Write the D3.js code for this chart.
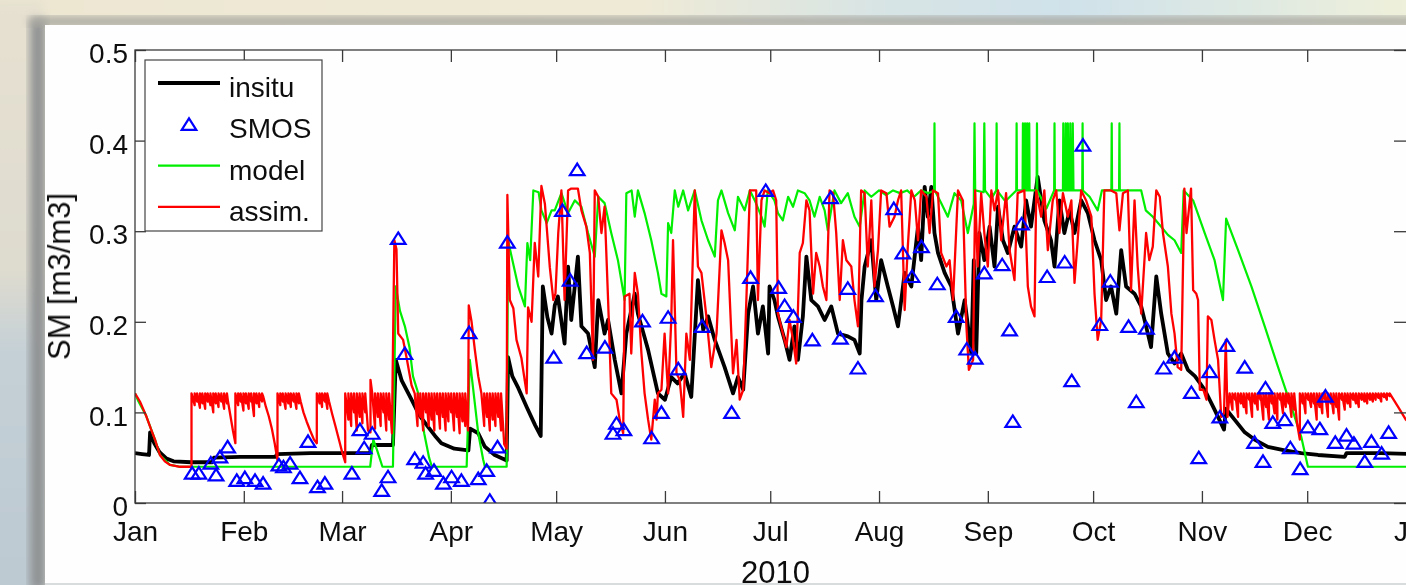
<!DOCTYPE html>
<html>
<head>
<meta charset="utf-8">
<script src="https://cdn.jsdelivr.net/npm/d3@7"></script>
<style>
  html, body { margin: 0; padding: 0; background: #e7e2d2; overflow: hidden; }
  svg { display: block; font-family: "Liberation Sans", Arial, Helvetica, sans-serif; }
</style>
</head>
<body>
<svg id="fig" width="1406" height="585"></svg>
<script>
// all series: [day of 2010 (0 = 1 Jan), soil moisture in m3/m3]
const insitu = [
  [0,0.055],[2,0.054],[4,0.053],[4.3,0.078],[5.5,0.066],[7,0.056],[9,0.049],[11,0.046],[16,0.045],[22,0.045],
  [22.5,0.050],[30,0.051],[40,0.051],[40.5,0.054],[50,0.055],[67,0.055],[67.5,0.064],[73.5,0.064],[74.3,0.158],
  [76,0.135],[78.8,0.114],[81,0.097],[83.5,0.084],[85.5,0.074],[87.3,0.066],[91,0.060],[95,0.058],[95.5,0.082],
  [97.8,0.077],[99.7,0.062],[102.5,0.053],[105.9,0.047],[106.3,0.161],[107.5,0.140],[109.2,0.127],[111.6,0.106],
  [114,0.086],[115.6,0.074],[116.2,0.239],[117.5,0.205],[118.7,0.187],[119.6,0.218],[120.5,0.228],[122.4,0.176],
  [123.4,0.261],[124.3,0.202],[126.2,0.272],[127.2,0.195],[129.1,0.187],[131,0.150],[132,0.224],[133.8,0.187],
  [134.8,0.202],[136.7,0.158],[138.6,0.121],[140,0.187],[142.4,0.231],[143.3,0.209],[146.2,0.169],[149,0.121],
  [151,0.114],[152.8,0.139],[154.6,0.132],[156.6,0.143],[158.5,0.117],[160.4,0.246],[161.9,0.191],[163.3,0.206],
  [165.2,0.180],[168,0.150],[170.4,0.121],[171.8,0.139],[173.3,0.125],[174.7,0.209],[176.1,0.239],[177.5,0.187],
  [178.9,0.217],[180.4,0.165],[180.8,0.239],[182.2,0.224],[183.2,0.206],[185.1,0.180],[186.5,0.158],[187.9,0.195],
  [188.9,0.158],[190.3,0.206],[191.3,0.272],[192.7,0.224],[194.6,0.217],[196.5,0.202],[198.4,0.217],[200.3,0.187],
  [203.1,0.184],[205,0.180],[206.5,0.165],[207,0.224],[207.9,0.261],[209.8,0.290],[211.2,0.224],[212.6,0.268],
  [214.5,0.239],[216,0.217],[217.4,0.195],[219.3,0.254],[221.2,0.239],[223.1,0.305],[224,0.268],[225,0.349],
  [225.9,0.316],[226.9,0.349],[227.8,0.298],[228.8,0.276],[230.7,0.254],[232.6,0.239],[234.5,0.187],[236.4,0.224],
  [238.3,0.165],[239,0.268],[239.7,0.165],[240.6,0.298],[242,0.268],[243.5,0.305],[244.9,0.261],[245.9,0.327],
  [247.3,0.290],[248.7,0.276],[250.6,0.305],[252.5,0.283],[253.9,0.334],[255.3,0.305],[257.2,0.360],[259.1,0.312],
  [261,0.290],[262,0.261],[263.4,0.334],[264.8,0.298],[266.3,0.323],[267.7,0.298],[269.6,0.334],[271.5,0.320],
  [273.4,0.290],[275.3,0.268],[276.7,0.224],[278.1,0.239],[279.6,0.209],[281,0.279],[282.4,0.239],[284.8,0.231],
  [286.7,0.217],[288.6,0.187],[289.5,0.172],[291,0.250],[292.4,0.209],[294.3,0.165],[296.2,0.154],[298.1,0.165],
  [300,0.147],[302,0.140],[304.8,0.125],[307.6,0.103],[310.3,0.081],[310.8,0.104],[313.3,0.092],[316.2,0.078],
  [319,0.070],[322.8,0.062],[327.6,0.058],[332.3,0.055],[337.1,0.053],[344.7,0.051],[345.2,0.055],[355,0.055],
  [365,0.054]
];

const smos = [
  [16.3,0.033],[18.2,0.033],[21.6,0.044],[23.1,0.031],[24.2,0.051],[26.4,0.062],[29,0.025],[31.3,0.028],
  [34.2,0.025],[36.5,0.022],[41,0.042],[42.3,0.040],[44.2,0.044],[47,0.028],[49.3,0.068],[52,0.018],[54.1,0.022],
  [61.8,0.033],[64.1,0.081],[65.3,0.061],[67.6,0.077],[70.3,0.014],[72.1,0.029],[75,0.292],[76.9,0.165],
  [79.7,0.049],[82.1,0.045],[82.8,0.033],[85.2,0.036],[87.9,0.022],[90.2,0.029],[93,0.025],[95.2,0.188],
  [97.8,0.027],[100.2,0.036],[101.1,0.003],[103.3,0.062],[106.1,0.288],[119.3,0.161],[121.8,0.323],[124,0.246],
  [126,0.368],[128.7,0.166],[133.9,0.172],[136.2,0.077],[137.2,0.088],[139.3,0.081],[144.6,0.201],[147.2,0.072],
  [150,0.100],[151.9,0.205],[154.8,0.148],[161.6,0.195],[170,0.100],[175.4,0.249],[179.7,0.345],[183.4,0.238],
  [185.1,0.218],[187.6,0.206],[193,0.180],[198.2,0.337],[201,0.182],[203.1,0.237],[206,0.149],[211,0.229],
  [216.2,0.325],[218.8,0.276],[221.4,0.250],[224.1,0.283],[228.6,0.242],[234,0.206],[237,0.170],[239.4,0.160],
  [242,0.254],[247.1,0.263],[249.2,0.191],[250.1,0.090],[252.6,0.308],[259.9,0.250],[264.9,0.266],[266.9,0.135],
  [270.1,0.395],[274.9,0.197],[277.9,0.245],[283.1,0.195],[285.3,0.112],[288.2,0.193],[293.1,0.149],[296.2,0.161],
  [301,0.122],[303.1,0.050],[306.2,0.145],[309.1,0.095],[311.1,0.174],[316.2,0.150],[319,0.067],[321.4,0.046],
  [322.1,0.127],[324.2,0.089],[327.6,0.092],[329.2,0.061],[332,0.038],[334.2,0.084],[337.6,0.082],[339.2,0.118],
  [342,0.067],[345.2,0.075],[347.3,0.066],[350.4,0.046],[352.3,0.068],[355.2,0.055],[357.2,0.078]
];

const model = [
  [0,0.121],[1,0.112],[3.1,0.097],[5.7,0.070],[7.1,0.053],[10,0.042],[12.8,0.040],[67,0.040],[67.9,0.070],
  [69,0.058],[70.5,0.040],[73.5,0.040],[74.3,0.239],[75.5,0.212],[76.9,0.195],[78.2,0.172],[79.2,0.140],
  [80.7,0.121],[82.4,0.077],[83.8,0.050],[84.6,0.040],[94.5,0.040],[95.4,0.158],[96.5,0.121],[97.8,0.077],
  [99.2,0.048],[99.7,0.040],[105.9,0.040],[106.3,0.290],[107.3,0.272],[109.2,0.239],[111.1,0.217],[111.8,0.287],
  [112.6,0.268],[113.5,0.345],[115,0.343],[115.8,0.323],[117.3,0.309],[118.7,0.323],[119.6,0.323],[121.5,0.342],
  [123.4,0.320],[125.3,0.334],[127.2,0.327],[129.1,0.298],[131,0.272],[132,0.338],[133.8,0.331],[135.7,0.298],
  [137.6,0.268],[139.5,0.224],[140,0.342],[141.5,0.345],[142.4,0.316],[143.3,0.345],[145.2,0.320],[147.1,0.290],
  [149,0.254],[150,0.231],[151.4,0.228],[151.9,0.309],[152.8,0.298],[153.8,0.345],[154.8,0.327],[156.2,0.345],
  [157.6,0.323],[159.5,0.345],[161.4,0.312],[163.3,0.290],[165.2,0.272],[166.1,0.334],[167.1,0.345],[169,0.320],
  [170.9,0.301],[171.8,0.338],[173.7,0.323],[175.2,0.345],[176.6,0.334],[178.5,0.316],[179.4,0.305],[180.3,0.345],
  [182.2,0.334],[183.2,0.320],[184.6,0.312],[186.1,0.338],[187.5,0.327],[188.9,0.345],[190.8,0.342],[192.2,0.334],
  [193.6,0.316],[195.1,0.338],[196.5,0.323],[197.4,0.301],[199.3,0.345],[201.2,0.331],[203.1,0.342],[205,0.316],
  [206.5,0.305],[207.9,0.345],[209.8,0.338],[212,0.345],[214,0.340],[216,0.345],[218,0.342],[220,0.345],
  [222,0.338],[224,0.345],[226,0.342],[227.7,0.345],[227.8,0.419],[227.9,0.345],[229.7,0.331],[231.6,0.316],
  [233.5,0.342],[235.4,0.334],[237.3,0.298],[239,0.330],[239.2,0.419],[239.4,0.345],[241.8,0.343],[242,0.419],
  [242.2,0.345],[244,0.336],[245.4,0.345],[245.5,0.419],[245.6,0.345],[248,0.333],[251.1,0.345],[251.2,0.419],
  [251.3,0.345],[252.9,0.345],[253,0.419],[253.1,0.345],[253.5,0.345],[253.6,0.419],[253.7,0.345],[254.1,0.345],
  [254.2,0.419],[254.3,0.345],[254.7,0.345],[254.8,0.419],[254.9,0.345],[256.9,0.345],[257,0.419],[257.1,0.345],
  [259.7,0.325],[261.9,0.345],[262,0.419],[262.1,0.345],[264.4,0.345],[264.5,0.419],[264.7,0.345],[265.1,0.345],
  [265.2,0.419],[265.4,0.345],[265.7,0.345],[265.8,0.419],[266,0.345],[266.4,0.345],[266.5,0.419],[266.7,0.345],
  [267.1,0.345],[267.2,0.419],[267.4,0.345],[269.9,0.345],[270,0.419],[270.1,0.345],[272,0.338],[274.3,0.323],
  [275.5,0.345],[278.2,0.345],[278.3,0.419],[278.4,0.345],[280.4,0.345],[280.5,0.419],[280.6,0.345],[283,0.345],
  [286.7,0.345],[288,0.323],[290,0.316],[292.4,0.305],[294.3,0.296],[296.2,0.290],[298.1,0.276],[298.8,0.345],
  [301.5,0.334],[304.8,0.298],[307.6,0.268],[310,0.224],[310.9,0.314],[314.3,0.279],[318.1,0.239],[321.9,0.195],
  [325.7,0.150],[329.5,0.106],[332.3,0.073],[334.2,0.040],[365,0.040]
];

// assimilation run: sharp jumps back up to the top value after each update
const assim = [
  [0,0.121],[1.4,0.112],[3.1,0.097],[4.5,0.082],[5.7,0.070],[7.1,0.053],[8.5,0.046],[10,0.042],[12.8,0.040],
  [16.1,0.040],[16.1,0.121],
  [17.0,0.108],[17.0,0.121],[17.7,0.112],[17.7,0.121],[18.5,0.105],[18.5,0.121],[19.2,0.110],[19.2,0.121],
  [20.0,0.104],[20.0,0.121],[20.7,0.112],[20.7,0.121],[21.5,0.108],[21.5,0.121],[22.3,0.100],[22.3,0.121],
  [23.0,0.110],[23.0,0.121],[23.8,0.106],[23.8,0.121],[24.6,0.112],[24.6,0.121],[25.4,0.104],[25.4,0.121],
  [26.2,0.110],[26.2,0.121],[26.5,0.112],[27.2,0.096],[27.9,0.080],[28.6,0.066],[28.6,0.121],
  [29.4,0.108],[29.4,0.121],[30.1,0.112],[30.1,0.121],[30.9,0.102],[30.9,0.121],[31.6,0.110],[31.6,0.121],
  [32.4,0.104],[32.4,0.121],[33.1,0.112],[33.1,0.121],[33.9,0.096],[33.9,0.121],[34.6,0.110],[34.6,0.121],
  [35.4,0.106],[35.4,0.121],[36.2,0.112],[36.2,0.121],[36.5,0.118],[37.3,0.106],[38.1,0.096],[39,0.082],
  [39.8,0.066],[40.6,0.047],[40.6,0.121],
  [41.4,0.108],[41.4,0.121],[42.1,0.112],[42.1,0.121],[42.9,0.104],[42.9,0.121],[43.7,0.110],[43.7,0.121],
  [44.4,0.106],[44.4,0.121],[45.2,0.112],[45.2,0.121],[46,0.104],[46,0.121],[46.7,0.110],[46.7,0.121],
  [47.2,0.112],[48,0.100],[48.9,0.090],[49.9,0.080],[51,0.070],[51.8,0.066],[51.8,0.121],
  [52.6,0.110],[52.6,0.121],[53.3,0.106],[53.3,0.121],[54.1,0.112],[54.1,0.121],[54.8,0.104],[54.8,0.121],
  [55.3,0.112],[56.2,0.098],[57.1,0.085],[58.1,0.070],[59.1,0.055],[59.9,0.045],[59.9,0.121],
  [60.8,0.092],[60.8,0.121],[61.6,0.085],[61.6,0.121],[62.4,0.100],[62.4,0.121],[63.2,0.080],[63.2,0.121],
  [64,0.095],[64,0.121],[64.8,0.088],[64.8,0.121],[65.6,0.100],[65.6,0.121],[66.4,0.080],[67.1,0.078],
  [67.1,0.136],[67.6,0.121],[68.4,0.082],[68.4,0.121],[69.2,0.095],[69.2,0.121],[70,0.085],[70,0.121],
  [70.8,0.100],[70.8,0.121],[71.6,0.080],[71.6,0.121],[72.4,0.092],[72.4,0.121],[73.2,0.077],
  [73.9,0.290],[74.5,0.280],[75,0.187],[76.4,0.180],[77.4,0.160],[78.8,0.130],[79.7,0.121],
  [80.5,0.085],[80.5,0.121],[81.3,0.095],[81.3,0.121],[82.1,0.080],[82.1,0.121],[82.9,0.100],[82.9,0.121],
  [83.7,0.085],[83.7,0.121],[84.5,0.092],[84.5,0.121],[85.3,0.080],[85.3,0.121],[86.1,0.098],[86.1,0.121],
  [86.9,0.082],[86.9,0.121],[87.7,0.095],[87.7,0.121],[88.5,0.080],[88.5,0.121],[89.3,0.090],[89.3,0.121],
  [90.1,0.100],[90.1,0.121],[90.9,0.080],[90.9,0.121],[91.7,0.095],[91.7,0.121],[92.5,0.077],[92.5,0.121],
  [93.3,0.090],[93.3,0.121],[94.1,0.085],[94.1,0.121],[94.9,0.080],
  [95.1,0.218],[95.9,0.200],[96.8,0.170],[97.8,0.140],[98.7,0.121],
  [99.5,0.085],[99.5,0.121],[100.3,0.095],[100.3,0.121],[101.1,0.080],[101.1,0.121],[101.9,0.092],[101.9,0.121],
  [102.7,0.085],[102.7,0.121],[103.5,0.095],[103.5,0.121],[104.3,0.080],[104.3,0.121],[105.2,0.065],[105.9,0.060],
  [106.1,0.340],[106.8,0.224],[107.8,0.215],[108.7,0.180],[110.1,0.160],
  [111.6,0.121],[112,0.216],[113,0.200],[113.9,0.287],[114.9,0.250],[115.8,0.350],[116.8,0.330],[118.2,0.260],
  [119.2,0.224],[119.8,0.231],[120.6,0.298],[121.5,0.345],[122.4,0.224],[123.4,0.345],[124.3,0.347],
  [126.2,0.347],[127.2,0.323],[128.6,0.305],[129.6,0.276],[130.5,0.158],[131,0.345],[132,0.338],[132.9,0.298],
  [133.8,0.327],[134.8,0.224],[135.7,0.121],[137.2,0.114],[138.1,0.092],[139.1,0.077],[139.5,0.228],
  [140.9,0.231],[141.4,0.165],[142.4,0.254],[143.3,0.231],[144.3,0.165],[145.2,0.121],[146.2,0.092],
  [147.1,0.070],[148.1,0.114],[148.6,0.092],[149,0.121],[150,0.125],[150.9,0.187],[151.9,0.121],[152.8,0.202],
  [153.3,0.290],[154.3,0.143],[155.2,0.136],[156.2,0.095],[157.1,0.187],[158.1,0.158],[159.5,0.345],
  [160.4,0.261],[161.4,0.254],[162.8,0.206],[164.2,0.150],[165.7,0.187],[167.1,0.301],[168,0.287],[169,0.268],
  [170.4,0.143],[171.4,0.180],[172.3,0.114],[173.3,0.125],[174.2,0.224],[175.2,0.345],[177,0.345],[177.5,0.224],
  [178.5,0.334],[179.4,0.345],[180.8,0.342],[181.8,0.345],[182.7,0.334],[183.2,0.209],[184.6,0.187],
  [185.6,0.172],[186.5,0.202],[187.5,0.180],[188.4,0.154],[189.4,0.276],[190.3,0.287],[191.3,0.334],
  [192.2,0.323],[193.2,0.231],[194.1,0.276],[195.1,0.261],[196,0.239],[197,0.224],[197.9,0.345],[198.9,0.342],
  [199.8,0.298],[200.8,0.224],[201.7,0.290],[202.7,0.268],[204.1,0.261],[205,0.224],[206,0.195],[206.9,0.345],
  [207.9,0.342],[208.8,0.261],[209.8,0.334],[210.7,0.239],[211.7,0.279],[212.6,0.345],[214.1,0.342],
  [215,0.305],[216.4,0.316],[217.4,0.334],[218.3,0.345],[219.3,0.213],[220.2,0.283],[221.2,0.345],
  [222.2,0.334],[223.1,0.290],[224,0.345],[225.5,0.338],[226.4,0.298],[227.4,0.345],[228.8,0.342],
  [229.7,0.276],[231.2,0.261],[232.1,0.268],[233.1,0.224],[234.5,0.345],[235.9,0.334],[236.9,0.195],
  [237.6,0.147],[238.8,0.158],[239.4,0.345],[240.1,0.261],[241.1,0.342],[242,0.298],[243,0.261],[244,0.345],
  [244.9,0.323],[245.9,0.345],[246.8,0.290],[248.2,0.342],[249.2,0.279],[250.6,0.246],[251.5,0.342],
  [253.4,0.345],[254.4,0.239],[255.3,0.217],[256.3,0.206],[256.8,0.345],[258.2,0.316],[259.1,0.345],
  [260.1,0.279],[261.5,0.334],[262.5,0.345],[263.4,0.298],[264.4,0.342],[265.8,0.316],[266.8,0.334],
  [267.7,0.243],[268.6,0.290],[269.6,0.345],[271,0.334],[272.5,0.316],[273.4,0.231],[274.3,0.180],[275.3,0.202],
  [276.2,0.345],[278.1,0.345],[279.6,0.342],[280.5,0.301],[281.5,0.342],[282.9,0.345],[283.8,0.235],
  [284.8,0.334],[285.7,0.261],[286.7,0.209],[288.1,0.298],[289,0.268],[290,0.283],[291,0.345],[292,0.338],
  [292.9,0.298],[294.3,0.261],[295.3,0.209],[296.2,0.187],[297.1,0.150],[298.1,0.147],[299,0.347],[299.6,0.298],
  [300.9,0.347],[301.5,0.235],[302.4,0.231],[302.9,0.224],[303.4,0.125],[304.4,0.125],[305.3,0.114],
  [305.7,0.206],[306.7,0.202],[307.6,0.180],[308.6,0.158],[309.5,0.095],[310.3,0.099],[310.8,0.180],
  [311.3,0.095],[311.9,0.121],
  [312.7,0.103],[312.7,0.121],[313.5,0.114],[313.5,0.121],[314.3,0.095],[314.3,0.121],[315.1,0.110],[315.1,0.121],
  [315.9,0.106],[315.9,0.121],[316.7,0.099],[316.7,0.121],[317.5,0.114],[317.5,0.121],[318.3,0.095],[318.3,0.121],
  [319.1,0.110],[319.1,0.121],[319.9,0.103],[319.9,0.121],[320.7,0.114],[320.7,0.121],[321.5,0.092],[321.5,0.121],
  [322.3,0.106],[322.3,0.121],[323.1,0.092],[323.1,0.121],[323.9,0.110],[323.9,0.121],[324.7,0.099],[324.7,0.121],
  [325.5,0.092],[325.5,0.121],[326.3,0.114],[326.3,0.121],[327.1,0.099],[327.1,0.121],[327.9,0.106],[327.9,0.121],
  [328.7,0.110],[328.7,0.121],[329.5,0.095],[329.5,0.121],[330.3,0.103],[330.3,0.121],[331.1,0.088],[331.9,0.070],
  [331.9,0.121],[332.7,0.110],[332.7,0.121],[333.5,0.099],[333.5,0.121],[334.3,0.114],[334.3,0.121],
  [335.1,0.106],[335.1,0.121],[335.9,0.110],[335.9,0.121],[336.7,0.092],[336.7,0.121],[337.5,0.106],[337.5,0.121],
  [338.3,0.099],[338.3,0.121],[339.1,0.114],[339.1,0.121],[339.9,0.095],[339.9,0.121],[340.7,0.110],[340.7,0.121],
  [341.5,0.099],[341.5,0.121],[342.3,0.106],[342.3,0.121],[343.1,0.092],[343.1,0.121],[343.9,0.114],[343.9,0.121],
  [344.7,0.103],[344.7,0.121],[345.5,0.110],[345.5,0.121],[346.3,0.106],[346.3,0.121],[347.1,0.114],[347.1,0.121],
  [347.9,0.110],[347.9,0.121],[348.7,0.106],[348.7,0.121],[349.5,0.114],[349.5,0.121],[350.3,0.112],[350.3,0.121],
  [351.1,0.110],[351.1,0.121],[351.9,0.114],[351.9,0.121],[352.7,0.112],[352.7,0.121],[353.5,0.114],[353.5,0.121],
  [354.3,0.116],[354.3,0.121],[355.1,0.112],[355.1,0.121],[355.9,0.117],[355.9,0.121],[356.7,0.114],[356.7,0.121],
  [357.5,0.118],[357.5,0.121],[359.9,0.106],[362.1,0.092],[365,0.082]
];

const yTicks = [0, 0.1, 0.2, 0.3, 0.4, 0.5];
const legendLabels = ['insitu', 'SMOS', 'model', 'assim.'];
const xLabel = '2010';
const yLabel = 'SM [m3/m3]';

const svg = d3.select('#fig');
const t0 = Date.UTC(2010, 0, 1);
const toDate = (d) => new Date(t0 + d * 864e5);

// axes box runs to 1 Jan 2011, a little past the right edge of the photo
const boxL = 135, boxR = 1416, boxT = 50, boxB = 503;

const xScale = d3.scaleUtc()
  .domain([new Date(t0), new Date(Date.UTC(2011, 0, 1))])
  .range([boxL, boxR]);

const yScale = d3.scaleLinear()
  .domain([0, 0.5])
  .range([boxB, boxT]);

// ---- photo background: slide edges around the white figure ----
const defs = svg.append('defs');
defs.append('filter').attr('id', 'blurBg').attr('x', '-20%').attr('y', '-20%').attr('width', '140%').attr('height', '140%')
  .append('feGaussianBlur').attr('stdDeviation', 5);
defs.append('filter').attr('id', 'soft')
  .append('feGaussianBlur').attr('stdDeviation', 0.55);

const topGrad = defs.append('linearGradient').attr('id', 'topGrad');
[[0, '#ece6d2'], [0.45, '#efead6'], [0.62, '#d8e4e4'], [0.75, '#cfe1ea'], [0.88, '#dfe9e2'], [1, '#f1f1d9']]
  .forEach(([o, c]) => topGrad.append('stop').attr('offset', o).attr('stop-color', c));

const leftGrad = defs.append('linearGradient').attr('id', 'leftGrad')
  .attr('x1', 0).attr('y1', 0).attr('x2', 0).attr('y2', 1);
[[0, '#e6e1d0'], [0.45, '#dedbcf'], [0.58, '#c5d0d6'], [1, '#bcc9d1']]
  .forEach(([o, c]) => leftGrad.append('stop').attr('offset', o).attr('stop-color', c));

const bg = svg.append('g');
bg.append('rect').attr('width', 1406).attr('height', 585).attr('fill', '#e7e2d2');
bg.append('rect').attr('x', -20).attr('y', -20).attr('width', 1450).attr('height', 45)
  .attr('fill', 'url(#topGrad)').attr('filter', 'url(#blurBg)');
bg.append('rect').attr('x', -20).attr('y', 0).attr('width', 64).attr('height', 605)
  .attr('fill', 'url(#leftGrad)').attr('filter', 'url(#blurBg)');
bg.append('rect').attr('x', 30).attr('y', 20).attr('width', 16).attr('height', 570)
  .attr('fill', '#8f9293').attr('filter', 'url(#blurBg)');
bg.append('rect').attr('x', 30).attr('y', 17).attr('width', 1390).attr('height', 9)
  .attr('fill', '#a3a29b').attr('filter', 'url(#blurBg)');
bg.append('rect').attr('x', 45).attr('y', 25).attr('width', 1361).attr('height', 558)
  .attr('fill', '#fefefe');
bg.append('rect').attr('x', 45).attr('y', 583).attr('width', 1361).attr('height', 2)
  .attr('fill', '#d9dcdc');

// ---- the figure ----
const fig = svg.append('g').attr('filter', 'url(#soft)');

fig.append('clipPath').attr('id', 'plotClip')
  .append('rect').attr('x', boxL).attr('y', boxT).attr('width', boxR - boxL).attr('height', boxB - boxT);

const plot = fig.append('g').attr('clip-path', 'url(#plotClip)');

const line = d3.line()
  .x((d) => xScale(toDate(d[0])))
  .y((d) => yScale(d[1]));

plot.append('path').datum(insitu)
  .attr('d', line).attr('fill', 'none').attr('stroke', '#000')
  .attr('stroke-width', 3.8).attr('stroke-linejoin', 'round');

plot.append('path').datum(model)
  .attr('d', line).attr('fill', 'none').attr('stroke', '#00ee00')
  .attr('stroke-width', 2.2).attr('stroke-linejoin', 'round');

plot.append('path').datum(assim)
  .attr('d', line).attr('fill', 'none').attr('stroke', '#ff0000')
  .attr('stroke-width', 2.3).attr('stroke-linejoin', 'round');

const tri = 'M0,-6 L7.3,5.5 L-7.3,5.5 Z';
plot.selectAll('.smos')
  .data(smos)
  .enter()
  .append('path')
  .attr('class', 'smos')
  .attr('d', tri)
  .attr('transform', (d) => `translate(${xScale(toDate(d[0]))},${yScale(d[1])})`)
  .attr('fill', 'none')
  .attr('stroke', '#0000ff')
  .attr('stroke-width', 2.2);

// axes: ticks inside the box, as in the original
const axisColor = '#3a3a3a';
const months = d3.utcMonth.range(new Date(t0), new Date(Date.UTC(2011, 0, 2)));

const xAxis = fig.append('g')
  .attr('transform', `translate(0, ${boxB})`)
  .call(d3.axisBottom(xScale).tickValues(months).tickFormat(d3.utcFormat('%b')).tickSize(-12));

const xTop = fig.append('g')
  .attr('transform', `translate(0, ${boxT})`)
  .call(d3.axisTop(xScale).tickValues(months).tickFormat('').tickSize(-12));

const yAxis = fig.append('g')
  .attr('transform', `translate(${boxL}, 0)`)
  .call(d3.axisLeft(yScale).tickValues(yTicks)
    .tickFormat((d) => d === 0 ? '0' : d3.format('.1f')(d)).tickSize(-11));

const yRight = fig.append('g')
  .attr('transform', `translate(${boxR}, 0)`)
  .call(d3.axisRight(yScale).tickValues(yTicks).tickFormat('').tickSize(-22));

[xAxis, xTop, yAxis, yRight].forEach((g) => {
  g.select('.domain').remove();
  g.selectAll('line').attr('stroke', axisColor).attr('stroke-width', 1.3);
});

xAxis.selectAll('text')
  .attr('y', 38).attr('dy', null)
  .attr('font-size', 28).attr('fill', '#111');

yAxis.selectAll('text')
  .attr('x', -7).attr('dy', '0.45em')
  .attr('font-size', 28).attr('fill', '#111');

fig.append('rect')
  .attr('x', boxL).attr('y', boxT)
  .attr('width', boxR - boxL).attr('height', boxB - boxT)
  .attr('fill', 'none').attr('stroke', axisColor).attr('stroke-width', 1.3);

fig.append('text')
  .attr('x', (boxL + boxR) / 2)
  .attr('y', 583)
  .attr('text-anchor', 'middle')
  .attr('font-size', 31).attr('fill', '#111')
  .text(xLabel);

fig.append('text')
  .attr('transform', `translate(70, ${(boxT + boxB) / 2}) rotate(-90)`)
  .attr('text-anchor', 'middle')
  .attr('font-size', 31).attr('fill', '#111')
  .text(yLabel);

// legend
const legend = fig.append('g');
legend.append('rect')
  .attr('x', 145).attr('y', 60).attr('width', 177).attr('height', 171)
  .attr('fill', '#fff').attr('stroke', '#444').attr('stroke-width', 1.2);

const legendStyle = [
  { color: '#000', width: 3.8, mark: 'line' },
  { color: '#0000ff', width: 2.2, mark: 'tri' },
  { color: '#00ee00', width: 2.2, mark: 'line' },
  { color: '#ff0000', width: 2.3, mark: 'line' }
];

legendLabels.forEach((label, i) => {
  const yy = 83 + i * 41.3;
  const s = legendStyle[i];
  if (s.mark === 'line') {
    legend.append('line')
      .attr('x1', 158).attr('x2', 220).attr('y1', yy).attr('y2', yy)
      .attr('stroke', s.color).attr('stroke-width', s.width);
  } else {
    legend.append('path')
      .attr('d', tri)
      .attr('transform', `translate(189, ${yy})`)
      .attr('fill', 'none').attr('stroke', s.color).attr('stroke-width', s.width);
  }
  legend.append('text')
    .attr('x', 229).attr('y', yy + 14)
    .attr('font-size', 28).attr('fill', '#111')
    .text(label);
});
</script>
</body>
</html>
